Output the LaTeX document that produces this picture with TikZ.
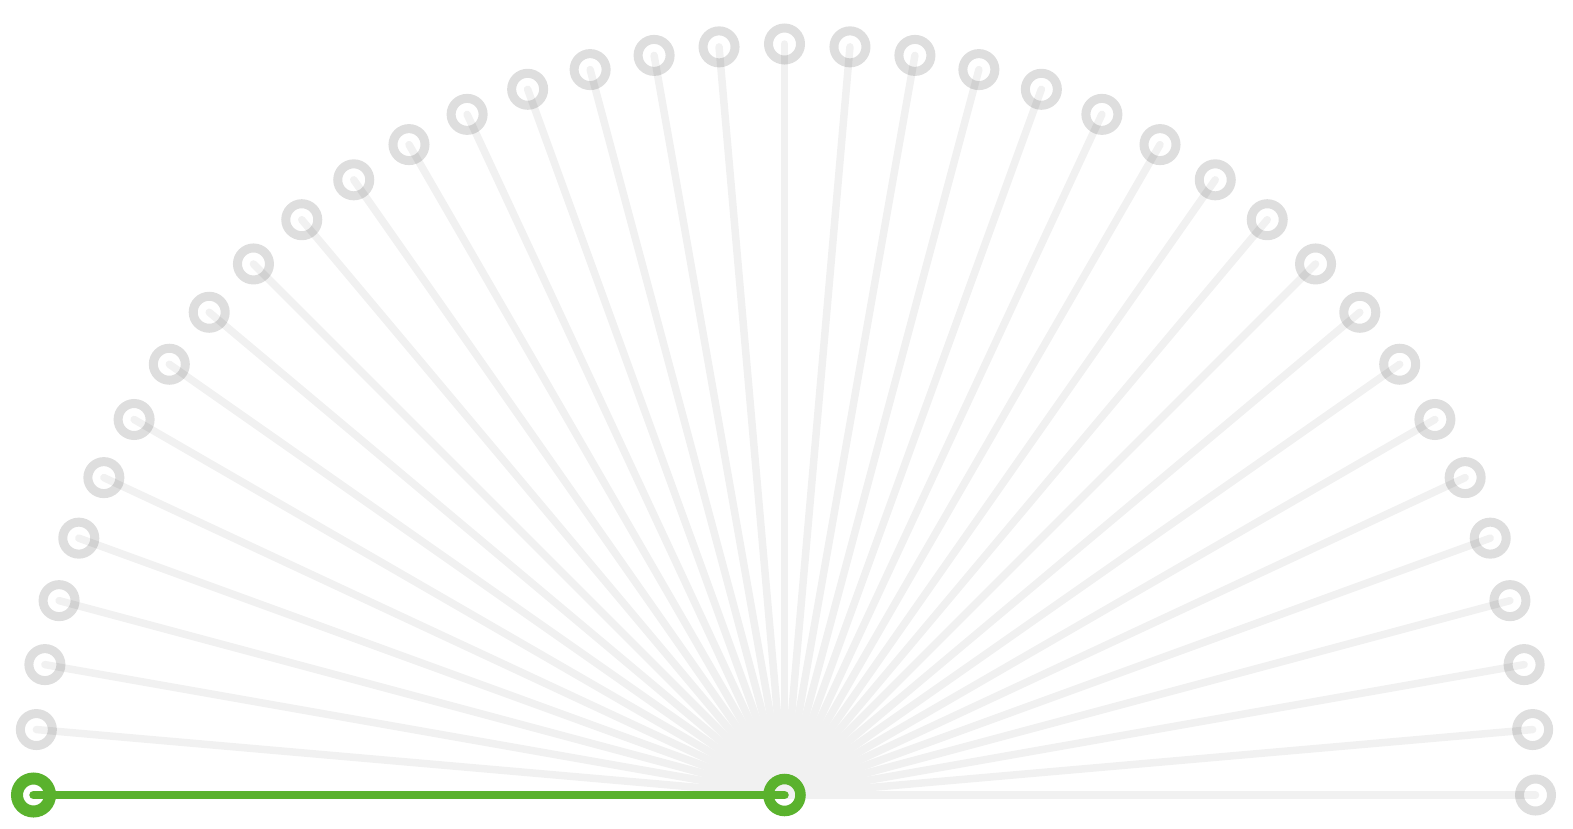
\documentclass[tikz,border=0pt]{standalone}
\usetikzlibrary{calc}
\definecolor{fanline}{HTML}{F1F1F1}
\definecolor{fangreen}{HTML}{5AB22D}
\begin{document}
\begin{tikzpicture}[x=1pt,y=-1pt,
  spoke/.style={draw=fanline,line width=7.5pt,line cap=round},
  ring/.style={circle,draw=black,draw opacity=0.13,line width=9pt,minimum size=32pt,inner sep=0pt,outer sep=0pt},
  greenspoke/.style={draw=fangreen,line width=8.5pt,line cap=round},
  greenring/.style={circle,draw=fangreen,line width=10.5pt,minimum size=32pt,inner sep=0pt,outer sep=0pt}]
\useasboundingbox (0,0) rectangle (1573,828);
\coordinate (c) at (784.5,795);
\foreach \i in {0,...,36}{
  \coordinate (p\i) at ($(c)+({180+5*\i}:751)$);
}
\foreach \i in {1,...,36}{
  \draw[spoke] (c) -- (p\i);
}
\foreach \i in {1,...,36}{
  \node[ring] (r\i) at (p\i) {};
}
\draw[greenspoke] (p0) -- (c);
\node[greenring,minimum size=33pt,line width=12pt] (g0) at (p0) {};
\node[greenring] (gc) at (c) {};
\end{tikzpicture}
\end{document}
